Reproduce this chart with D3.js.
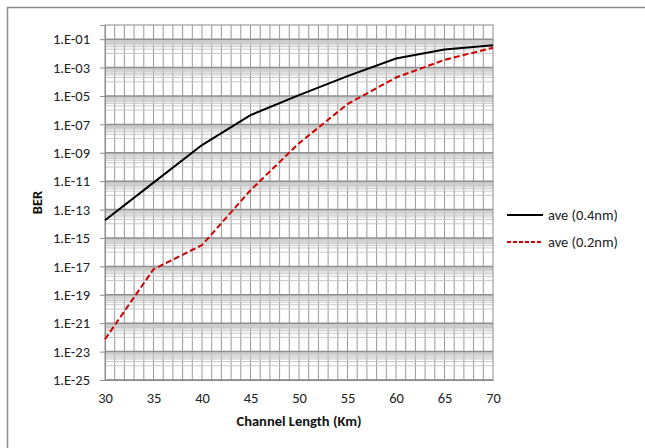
<!DOCTYPE html>
<html>
<head>
<meta charset="utf-8">
<script src="https://cdn.jsdelivr.net/npm/d3@7.9.0/dist/d3.min.js"></script>
<style>
  html, body { margin: 0; padding: 0; background: #fff; }
  svg { display: block; font-family: Carlito, Lato, "Open Sans", sans-serif; }
</style>
</head>
<body>
<svg id="chart" width="645" height="448"></svg>
<script>
// channel length (km)
const lengths = [30, 35, 40, 45, 50, 55, 60, 65, 70];
// BER, ave (0.4nm)
const ber04 = [1.8e-14, 7.9e-12, 3.5e-9, 4.5e-7, 1.15e-5, 2.5e-4, 4.4e-3, 1.9e-2, 3.8e-2];
// BER, ave (0.2nm)
const ber02 = [7.4e-23, 6.3e-18, 3.2e-16, 2.3e-12, 4.7e-9, 2.7e-6, 2.0e-4, 3.5e-3, 2.5e-2];

const seriesNames = ["ave (0.4nm)", "ave (0.2nm)"];
const xTicks = [30, 35, 40, 45, 50, 55, 60, 65, 70];
const yExponents = [-1, -3, -5, -7, -9, -11, -13, -15, -17, -19, -21, -23, -25];

const margin = { left: 105, top: 25, right: 152, bottom: 68 };
const width = 645, height = 448;
const labelFont = "Carlito, Lato, sans-serif";

const svg = d3.select("#chart");

// outer frame
svg.append("rect")
  .attr("x", 7.5).attr("y", 7.5)
  .attr("width", 660).attr("height", 460)
  .attr("fill", "none")
  .attr("stroke", "#8c8c8c")
  .attr("stroke-width", 1.5);

const x = d3.scaleLinear()
  .domain([30, 70])
  .range([margin.left, width - margin.right]);

const y = d3.scaleLog()
  .domain([1e-25, 1])
  .range([height - margin.bottom, margin.top]);

const grid = svg.append("g");

// vertical gridlines every km
d3.range(31, 70).forEach((v) => {
  grid.append("line")
    .attr("x1", x(v)).attr("x2", x(v))
    .attr("y1", y.range()[1]).attr("y2", y.range()[0])
    .attr("stroke", "#999")
    .attr("stroke-width", 1);
});

// minor horizontal lines: k * 10^(e-1), k = 1..9 under each labelled decade
yExponents.forEach((e) => {
  d3.range(1, 10).forEach((k) => {
    const v = k * Math.pow(10, e - 1);
    if (v <= 1e-25) return;
    grid.append("line")
      .attr("x1", x.range()[0]).attr("x2", x.range()[1])
      .attr("y1", y(v)).attr("y2", y(v))
      .attr("stroke", "#c8c8c8")
      .attr("stroke-width", 1);
  });
});

// major horizontal lines
yExponents.forEach((e) => {
  grid.append("line")
    .attr("x1", x.range()[0]).attr("x2", x.range()[1])
    .attr("y1", y(Math.pow(10, e))).attr("y2", y(Math.pow(10, e)))
    .attr("stroke", "#8f8f8f")
    .attr("stroke-width", 1.5);
});

// plot area border
svg.append("rect")
  .attr("x", x.range()[0]).attr("y", y.range()[1])
  .attr("width", x.range()[1] - x.range()[0])
  .attr("height", y.range()[0] - y.range()[1])
  .attr("fill", "none")
  .attr("stroke", "#8c8c8c")
  .attr("stroke-width", 1);

// y axis
const yAxis = d3.axisLeft(y)
  .tickValues(yExponents.map((e) => Math.pow(10, e)))
  .tickFormat((d) => "1.E-" + String(Math.round(-Math.log10(d))).padStart(2, "0"))
  .tickSize(5)
  .tickPadding(10);

const gy = svg.append("g")
  .attr("transform", `translate(${margin.left},0)`)
  .call(yAxis);
gy.select(".domain").attr("stroke", "#8c8c8c");
gy.selectAll(".tick line").attr("stroke", "#8c8c8c");
gy.selectAll(".tick text")
  .attr("font-size", 14.5)
  .attr("font-family", labelFont)
  .attr("fill", "#222");

// x axis
const xAxis = d3.axisBottom(x)
  .tickValues(xTicks)
  .tickSize(0)
  .tickPadding(13);

const gx = svg.append("g")
  .attr("transform", `translate(0,${height - margin.bottom})`)
  .call(xAxis);
gx.select(".domain").attr("stroke", "#8c8c8c");
gx.selectAll(".tick text")
  .attr("font-size", 14.5)
  .attr("font-family", labelFont)
  .attr("fill", "#222");

// axis titles
svg.append("text")
  .attr("x", (x.range()[0] + x.range()[1]) / 2)
  .attr("y", 426)
  .attr("text-anchor", "middle")
  .attr("font-size", 14.5)
  .attr("font-family", labelFont)
  .attr("font-weight", "bold")
  .attr("fill", "#111")
  .text("Channel Length (Km)");

svg.append("text")
  .attr("transform", `translate(42,${(y.range()[0] + y.range()[1]) / 2}) rotate(-90)`)
  .attr("text-anchor", "middle")
  .attr("font-size", 14.5)
  .attr("font-family", labelFont)
  .attr("font-weight", "bold")
  .attr("fill", "#111")
  .text("BER");

// series lines
const line = d3.line()
  .x((d) => x(d[0]))
  .y((d) => y(d[1]));

svg.append("path")
  .datum(d3.zip(lengths, ber04))
  .attr("d", line)
  .attr("fill", "none")
  .attr("stroke", "#000")
  .attr("stroke-width", 2);

svg.append("path")
  .datum(d3.zip(lengths, ber02))
  .attr("d", line)
  .attr("fill", "none")
  .attr("stroke", "#d00000")
  .attr("stroke-width", 2)
  .attr("stroke-dasharray", "6,3");

// legend
const legend = svg.append("g").attr("transform", "translate(507,215)");
const styles = [
  { stroke: "#000", dash: null },
  { stroke: "#d00000", dash: "4,2" },
];
seriesNames.forEach((name, i) => {
  const row = legend.append("g").attr("transform", `translate(0,${i * 27})`);
  row.append("line")
    .attr("x1", 0).attr("x2", 36)
    .attr("stroke", styles[i].stroke)
    .attr("stroke-width", 1.8)
    .attr("stroke-dasharray", styles[i].dash);
  row.append("text")
    .attr("x", 41).attr("y", 5)
    .attr("font-size", 14.5)
    .attr("font-family", labelFont)
    .attr("fill", "#222")
    .text(name);
});
</script>
</body>
</html>
